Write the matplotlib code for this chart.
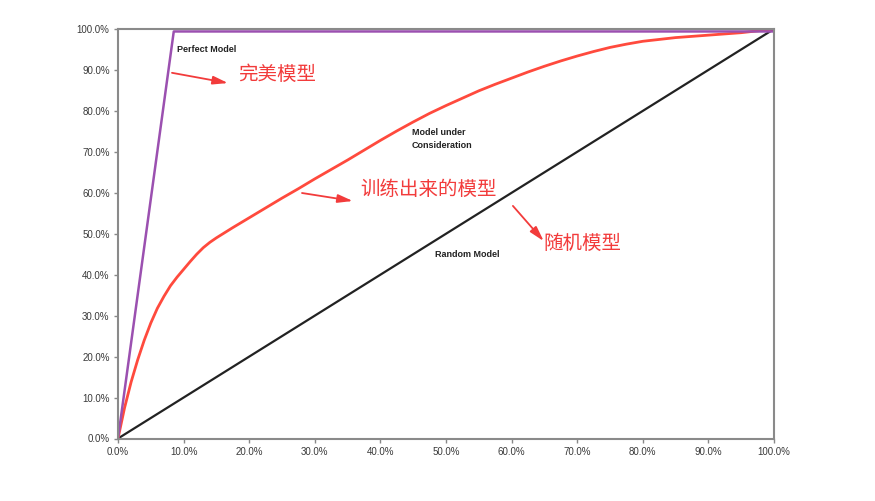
import matplotlib
matplotlib.use("Agg")
import matplotlib.pyplot as plt
from matplotlib.ticker import FuncFormatter, MultipleLocator

plt.rcParams['font.family'] = ['Liberation Sans', 'Noto Sans CJK SC', 'DejaVu Sans']

# Data (percent)
random_x = [0, 100]
random_y = [0, 100]
perfect_x = [0, 8.5, 100]
perfect_y = [0, 99.4, 99.4]
model_x = [0, 1, 2, 3, 4, 5, 6, 7, 8, 9, 10, 11, 12, 13, 14, 15, 16, 17.5, 20, 22.5, 25,
           27.5, 30, 32.5, 35, 37.5, 40, 42.5, 45, 47.5, 50, 52.5, 55, 57.5, 60, 62.5,
           65, 67.5, 70, 72.5, 75, 77.5, 80, 85, 90, 95, 100]
model_y = [0, 7.5, 13.8, 19.2, 24, 28.2, 31.8, 34.7, 37.3, 39.4, 41.3, 43.2, 45, 46.6, 47.9, 49, 50, 51.5, 53.9, 56.3, 58.7,
           61, 63.4, 65.7, 68, 70.4, 72.8, 75.1, 77.3, 79.4, 81.3, 83.1, 84.9, 86.5, 88, 89.5,
           90.9, 92.2, 93.4, 94.5, 95.5, 96.3, 97, 97.9, 98.5, 99.1, 100]

fig = plt.figure(figsize=(8.75, 5.01), dpi=100)
ax = fig.add_axes([118/875, 1-438.5/501, (774-118)/875, (438.5-29)/501])

ax.plot(random_x, random_y, color='#222222', lw=1.6, solid_capstyle='butt')
ax.plot(model_x, model_y, color='#ff4a3d', lw=2.0, solid_joinstyle='round')
ax.plot(perfect_x, perfect_y, color='#9b50b0', lw=1.8)

ax.set_xlim(0, 100)
ax.set_ylim(0, 100)
ax.xaxis.set_major_locator(MultipleLocator(10))
ax.yaxis.set_major_locator(MultipleLocator(10))
fmt = FuncFormatter(lambda v, p: f"{v:.1f}%")
ax.xaxis.set_major_formatter(fmt)
ax.yaxis.set_major_formatter(fmt)
ax.tick_params(axis='both', labelsize=7, color='#888888', length=3, width=1, labelcolor='#3a3a3a', pad=3)
for s in ax.spines.values():
    s.set_color('#8a8a8a')
    s.set_linewidth(1.5)

# English labels
ax.text(9.0, 94.9, 'Perfect Model', fontsize=6.5, fontweight='bold', color='#222222', va='center', ha='left')
ax.text(44.8, 73.1, 'Model under\nConsideration', fontsize=6.5, fontweight='bold', color='#222222', va='center', ha='left', linespacing=1.5)
ax.text(48.3, 45.05, 'Random Model', fontsize=6.5, fontweight='bold', color='#222222', va='center', ha='left')

# Chinese annotations
red = '#f23b3b'
cjk = ['Noto Sans CJK SC', 'DejaVu Sans']
ax.text(18.3, 88.8, '完美模型', fontsize=14, color=red, va='center', ha='left', family=cjk)
ax.text(37.0, 60.9, '训练出来的模型', fontsize=14, color=red, va='center', ha='left', family=cjk)
ax.text(64.8, 47.7, '随机模型', fontsize=14, color=red, va='center', ha='left', family=cjk)

arrow = dict(arrowstyle='-|>,head_length=0.9,head_width=0.25', color=red, lw=1.3, shrinkA=0, shrinkB=0)
ax.annotate('', xy=(16.77, 86.8), xytext=(8.23, 89.3), arrowprops=arrow)
ax.annotate('', xy=(35.8, 58.0), xytext=(28.05, 59.95), arrowprops=arrow)
ax.annotate('', xy=(64.9, 48.2), xytext=(60.2, 56.8), arrowprops=arrow)

fig.savefig('out.png', dpi=100)
